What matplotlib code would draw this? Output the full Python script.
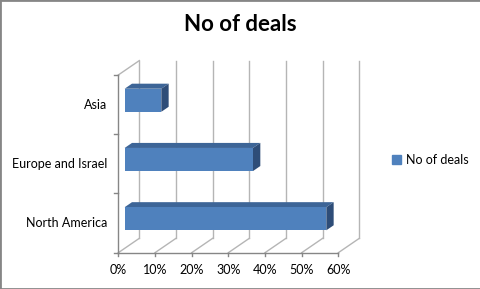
import matplotlib.pyplot as plt
from matplotlib.patches import Polygon, Rectangle, Patch

plt.rcParams['font.family'] = ['Lato', 'DejaVu Sans']

# datos
categorias = ['North America', 'Europe and Israel', 'Asia']
valores = [55, 35, 10]
ticks_x = [0, 10, 20, 30, 40, 50, 60]
etiquetas_x = ['0%', '10%', '20%', '30%', '40%', '50%', '60%']
serie = 'No of deals'

# colores estilo Excel
azul = '#4F81BD'
azul_arriba = '#3D6597'
azul_lado = '#2E4D78'
gris_grid = '#B5B5B5'
gris_eje = '#868686'

fig = plt.figure(figsize=(4.81, 2.89), dpi=100)
ax = fig.add_axes([0.246, 0.1256, 0.4574, 0.615])
ax.set_xlim(0, 60)
ax.set_ylim(0, 3)
ax.axis('off')

# profundidad de la caja 3D (en unidades de datos)
dx = 5.73
dy = 0.243
d0, d1 = 0.3, 0.65   # profundidad de las barras
alto = 0.39

# pared del fondo y piso
for v, lab in zip(ticks_x, etiquetas_x):
    ax.plot([v + dx, v + dx], [dy, 3 + dy], color=gris_grid, lw=1, clip_on=False)
    ax.plot([v, v + dx], [0, dy], color=gris_grid, lw=1, clip_on=False)
    ax.plot([v, v], [0, -0.06], color=gris_eje, lw=1, clip_on=False)
    ax.text(v, -0.3, lab, ha='center', va='center', fontsize=9)
# pared izquierda
ax.plot([0, dx], [3, 3 + dy], color=gris_grid, lw=1, clip_on=False)
# ejes
ax.plot([0, 60], [0, 0], color=gris_eje, lw=1, clip_on=False)
ax.plot([0, 0], [0, 3], color=gris_eje, lw=1, clip_on=False)
for k in range(4):
    ax.plot([0, -1.2], [k, k], color=gris_eje, lw=1, clip_on=False)

# barras 3D
for i, (cat, val) in enumerate(zip(categorias, valores)):
    yc = i + 0.5
    ax.text(-3, yc, cat, ha='right', va='center', fontsize=9)
    x0f, y0f = d0 * dx, yc - alto / 2 + d0 * dy
    x0b, y0b = d1 * dx, yc - alto / 2 + d1 * dy
    frente = [(x0f, y0f), (val + x0f, y0f), (val + x0f, y0f + alto), (x0f, y0f + alto)]
    arriba = [(x0f, y0f + alto), (val + x0f, y0f + alto), (val + x0b, y0b + alto), (x0b, y0b + alto)]
    lado = [(val + x0f, y0f), (val + x0b, y0b), (val + x0b, y0b + alto), (val + x0f, y0f + alto)]
    ax.add_patch(Polygon(arriba, closed=True, fc=azul_arriba, ec='none', clip_on=False, zorder=3))
    ax.add_patch(Polygon(lado, closed=True, fc=azul_lado, ec='none', clip_on=False, zorder=3))
    ax.add_patch(Polygon(frente, closed=True, fc=azul, ec='none', clip_on=False, zorder=4))

fig.text(0.5, 0.915, 'No of deals', ha='center', va='center', fontsize=16, fontweight='bold')

fig.legend(handles=[Patch(color=azul, label=serie)], loc='center left',
           bbox_to_anchor=(392 / 481, 1 - 160 / 289), frameon=False,
           handlelength=0.7, handleheight=0.7, handletextpad=0.4,
           borderpad=0, borderaxespad=0, fontsize=9)

# borde del grafico
fig.patches.append(Rectangle((0, 0), 1, 1, transform=fig.transFigure, fill=False,
                             ec=gris_eje, lw=2))

fig.savefig('out.png', dpi=100)
